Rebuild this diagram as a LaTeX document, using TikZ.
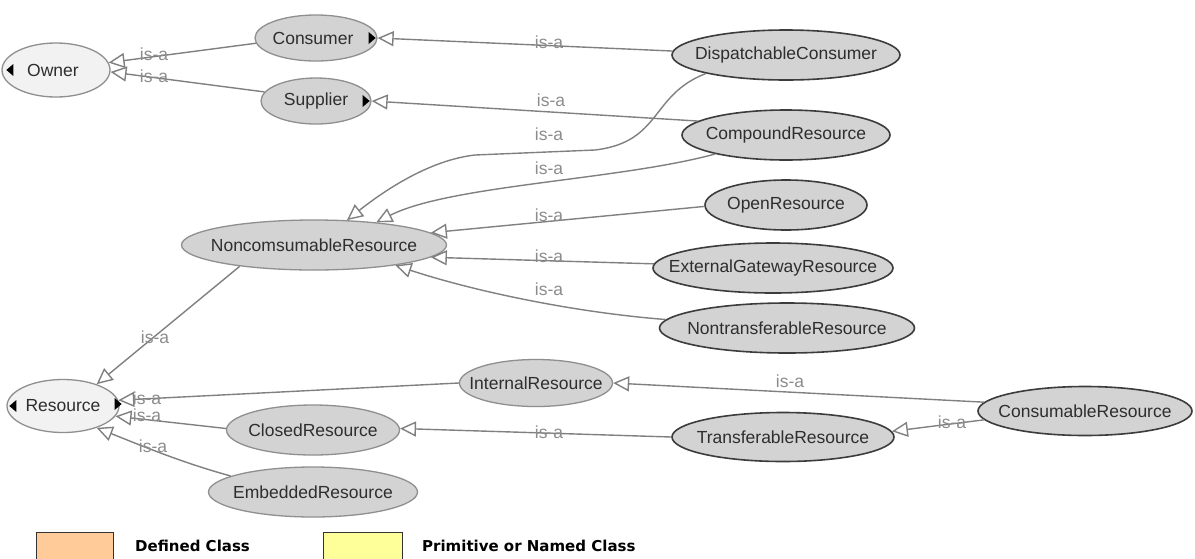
\documentclass[tikz,border=0pt]{standalone}
\usepackage{fontspec}
\setmainfont{Liberation Sans}
\newfontfamily\legendfont{DejaVu Sans}
\usetikzlibrary{shapes.geometric,arrows.meta,calc}

\definecolor{edgegray}{HTML}{808080}
\definecolor{labelgray}{HTML}{8C8C8C}
\definecolor{nodefill}{HTML}{D3D3D3}
\definecolor{rootfill}{HTML}{F2F2F2}
\definecolor{softborder}{HTML}{8F8F8F}
\definecolor{darkborder}{HTML}{3C3C3C}
\definecolor{textgray}{HTML}{2E2E2E}
\definecolor{definedfill}{HTML}{FFCC99}
\definecolor{primfill}{HTML}{FFFF99}

% class names take no width, so each ellipse keeps its own fixed size
\newcommand\cname[1]{\makebox[0pt]{#1}}

\begin{document}
\begin{tikzpicture}[x=1pt,y=-1pt,
  cls/.style={ellipse, inner sep=0pt, fill=nodefill, draw=softborder, line width=1.3pt,
              text=textgray, font=\fontsize{17.5}{20}\selectfont},
  rootcls/.style={cls, fill=rootfill},
  leafcls/.style={cls, draw=darkborder, line width=1.6pt},
  isa/.style={draw=edgegray, line width=1.4pt,
              -{Triangle[open, length=16pt, width=15pt, fill=white]}},
  isalabel/.style={text=labelgray, font=\fontsize{17.5}{20}\selectfont, inner sep=0pt},
  marker/.style={fill=black},
  legendbox/.style={draw=black!80, line width=1pt, inner sep=0pt, anchor=north west},
  legendtext/.style={font=\legendfont\bfseries\fontsize{15}{18}\selectfont, anchor=west, inner sep=0pt}
]
\useasboundingbox[fill=white] (0,0) rectangle (1195,558);

% ---- classes ----
\node[rootcls, minimum width=108pt, minimum height=54pt] (owner)    at (56,70)    {\cname{\hspace{-6pt}Owner}};
\node[cls,     minimum width=122pt, minimum height=46pt] (consumer) at (316,38)   {\cname{\hspace{-6pt}Consumer}};
\node[cls,     minimum width=110pt, minimum height=46pt] (supplier) at (316,101)  {\cname{Supplier}};
\node[leafcls, minimum width=228pt, minimum height=50pt] (dc)       at (786,55)   {\cname{DispatchableConsumer}};
\node[leafcls, minimum width=208pt, minimum height=50pt] (cr)       at (786,135)  {\cname{CompoundResource}};
\node[leafcls, minimum width=162pt, minimum height=50pt] (or)       at (786,205)  {\cname{OpenResource}};
\node[leafcls, minimum width=240pt, minimum height=50pt] (eg)       at (773,268)  {\cname{ExternalGatewayResource}};
\node[leafcls, minimum width=255pt, minimum height=50pt] (nt)       at (787,328)  {\cname{NontransferableResource}};
\node[cls,     minimum width=265pt, minimum height=50pt] (nc)       at (314,245)  {\cname{NoncomsumableResource}};
\node[rootcls, minimum width=112pt, minimum height=53pt] (res)      at (63,406)   {\cname{Resource}};
\node[cls,     minimum width=153pt, minimum height=47pt] (ir)       at (536,383)  {\cname{InternalResource}};
\node[cls,     minimum width=173pt, minimum height=50pt] (closed)   at (313,430)  {\cname{ClosedResource}};
\node[cls,     minimum width=209pt, minimum height=50pt] (er)       at (313,492)  {\cname{EmbeddedResource}};
\node[leafcls, minimum width=222pt, minimum height=49pt] (tr)       at (783,437)  {\cname{TransferableResource}};
\node[leafcls, minimum width=214pt, minimum height=49pt] (cons)     at (1085,411) {\cname{ConsumableResource}};

% ---- expand markers ----
\fill[marker] ($(owner.west)+(5,0)$) -- ++(7,-6) -- ++(0,12) -- cycle;
\fill[marker] ($(consumer.east)+(-9,-6)$) -- ++(7,6) -- ++(-7,6) -- cycle;
\fill[marker] ($(supplier.east)+(-9,-6)$) -- ++(7,6) -- ++(-7,6) -- cycle;
\fill[marker] ($(res.west)+(3,0)$) -- ++(7,-6) -- ++(0,12) -- cycle;
\fill[marker] ($(res.east)+(-5,-8)$) -- ++(7,6) -- ++(-7,6) -- cycle;

% ---- is-a relations ----
\draw[isa] (consumer.185) -- (owner.8);
\draw[isa] (supplier.170) -- (owner.358);
\draw[isa] (dc.178) -- (consumer.east);
\draw[isa] (cr.171) -- (supplier.east);
\draw[isa] (dc.193) .. controls (650,95) and (662,142) .. (595,150) -- (475,155)
           .. controls (430,160) and (385,190) .. (nc.37);
\draw[isa] (cr.195) .. controls (620,180) and (450,185) .. (nc.20);
\draw[isa] (or.181) -- (nc.6);
\draw[isa] (eg.178) -- (nc.354);
\draw[isa] (nt.176) .. controls (570,312) and (470,290) .. (nc.346);
\draw[isa] (nc.196) -- (res.33);
\draw[isa] (ir.west) -- (res.6);
\draw[isa] (closed.179) -- (res.349);
\draw[isa] (er.169) .. controls (180,462) and (140,445) .. (res.327);
\draw[isa] (cons.175) -- (ir.east);
\draw[isa] (cons.185) -- (tr.3);
\draw[isa] (tr.west) -- (closed.1);

% ---- relation labels ----
\node[isalabel] (l1)  at (154,54)  {is-a};
\node[isalabel] (l2)  at (154,76)  {is-a};
\node[isalabel] (l3)  at (549,42)  {is-a};
\node[isalabel] (l4)  at (551,100) {is-a};
\node[isalabel] (l5)  at (549,134) {is-a};
\node[isalabel] (l6)  at (549,168) {is-a};
\node[isalabel] (l7)  at (549,215) {is-a};
\node[isalabel] (l8)  at (549,256) {is-a};
\node[isalabel] (l9)  at (549,289) {is-a};
\node[isalabel] (l10) at (155,337) {is-a};
\node[isalabel] (l11) at (147,398) {is-a};
\node[isalabel] (l12) at (147,415) {is-a};
\node[isalabel] (l13) at (153,446) {is-a};
\node[isalabel] (l14) at (790,381) {is-a};
\node[isalabel] (l15) at (952,422) {is-a};
\node[isalabel] (l16) at (549,432) {is-a};

% ---- legend ----
\node[legendbox, fill=definedfill, minimum width=77pt, minimum height=32pt] (defbox) at (36,532) {};
\node[legendtext] (deftext) at (135,546) {Defined Class};
\node[legendbox, fill=primfill, minimum width=79pt, minimum height=32pt] (primbox) at (323,532) {};
\node[legendtext] (primtext) at (422,546) {Primitive or Named Class};
\end{tikzpicture}
\end{document}
